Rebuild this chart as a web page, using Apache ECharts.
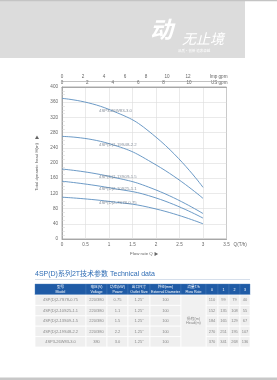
<!DOCTYPE html>
<html><head><meta charset="utf-8">
<script src="https://cdn.jsdelivr.net/npm/echarts@6/dist/echarts.min.js"></script>
<style>html,body{margin:0;padding:0;background:#fff;}#c{width:277px;height:380px;}</style>
</head><body><div id="c"></div>
<script>
// ---- data ----
const flowQ = [0, 1, 2, 3];
const models = ['4SP(D)2-7S78-0.75', '4SP(D)2-10S25-1.1', '4SP(D)2-13S09-1.5', '4SP(D)2-19S48-2.2', '4SP3-26W83-3.0'];
const voltage = ['220/380', '220/380', '220/380', '220/380', '380'];
const power = ['0.75', '1.1', '1.5', '2.2', '3.0'];
const outletSize = ['1.25"', '1.25"', '1.25"', '1.25"', '1.25"'];
const diameter = ['100', '100', '100', '100', '100'];
const head075 = [110, 99, 79, 40];
const head11 = [152, 135, 108, 55];
const head15 = [184, 165, 129, 67];
const head22 = [270, 251, 195, 107];
const head30 = [370, 341, 268, 136];
const heads = [head075, head11, head15, head22, head30];
const headerLabels = ['型号\nModel', '电压(V)\nVoltage', '功率(kW)\nPower', '出口尺寸\nOutlet Size', '外径(mm)\nExternal Diameter', '流量T/h\nFlow Rate', '0', '1', '2', '3'];
const flowCellText = '扬程(m)\nHead(m)';
const titleText = '4SP(D)系列2T技术参数 Technical data';
const yAxisName = 'Total dynamic head H(m)   ▶';
const xAxisName = 'Flow rate Q ▶';
const qUnit = 'Q(T/h)';
const impName = 'Imp gpm';
const usName = 'US gpm';

// ---- layout ----
const FONT = '"Liberation Sans","Noto Sans CJK SC",sans-serif';
const lineColor = '#5b8ec0';
const gridL = 62, gridR = 226.5, gridT = 87, gridB = 239;
const impPerPx = 1 / 10.5, usPerPx = 1 / 12.7;

const series = heads.map((h, i) => ({
  type: 'line', xAxisIndex: 0, yAxisIndex: 0, name: models[i],
  data: flowQ.map((q, k) => [q, h[k]]),
  symbol: 'none', smooth: 0.5,
  lineStyle: { color: lineColor, width: 0.9 }, silent: true, z: 3
}));
series.push({
  type: 'scatter', xAxisIndex: 0, yAxisIndex: 0, symbolSize: 1,
  itemStyle: { color: 'rgba(0,0,0,0)' }, silent: true, z: 4,
  data: heads.map((h, i) => ({ value: [flowQ[1], h[1]], name: models[i] })),
  label: { show: true, position: 'inside', align: 'left', offset: [-10, 1],
    formatter: p => p.name, fontSize: 4.3, color: '#6a7482', fontFamily: FONT }
});

// table graphics
const cols = [[35, 51], [86, 21], [107, 21], [128, 22], [150, 31], [181, 25], [206, 12], [218, 11], [229, 11], [240, 10]];
const headY = 284, headH = 11, rowY0 = 295, rowH = 10.4;
const g = [];
g.push({ type: 'rect', shape: { x: 0, y: 0, width: 245, height: 58 }, style: { fill: '#dcdcdc' } });
g.push({ type: 'rect', shape: { x: 0, y: 0, width: 277, height: 1.2 }, style: { fill: '#c4c4c4' } });
g.push({ type: 'rect', shape: { x: 0, y: 377.5, width: 277, height: 2.5 }, style: { fill: '#c8c8c8' } });
g.push({ type: 'text', x: 150, y: 18, style: { text: '动', fill: '#fff', font: 'italic bold 23px "Noto Sans CJK SC"' } });
g.push({ type: 'text', x: 182, y: 32, style: { text: '无止境', fill: '#fff', font: 'italic 14px "Noto Sans CJK SC"' } });
g.push({ type: 'text', x: 178, y: 49, style: { text: '品质·创新 追求卓越', fill: '#fff', font: '3.5px "Noto Sans CJK SC"' } });
g.push({ type: 'text', x: 35, y: 274, style: { text: titleText, fill: '#2f6db5', font: '7px ' + FONT, verticalAlign: 'middle' } });
g.push({ type: 'rect', shape: { x: 35, y: 279, width: 215, height: 0.8 }, style: { fill: '#c9d5e4' } });
cols.forEach(([x, w], c) => {
  g.push({ type: 'rect', shape: { x: x, y: headY, width: w, height: headH }, style: { fill: '#1f5ba6', stroke: '#4c7dbd', lineWidth: 0.4 } });
  g.push({ type: 'text', x: x + w / 2, y: headY + headH / 2, style: { text: headerLabels[c], fill: '#fff', font: '3.6px ' + FONT, align: 'center', verticalAlign: 'middle', lineHeight: 4.2 } });
});
for (let r = 0; r < models.length; r++) {
  const y = rowY0 + r * rowH;
  const vals = [models[r], voltage[r], power[r], outletSize[r], diameter[r], null].concat(heads[r].map(String));
  cols.forEach(([x, w], c) => {
    if (c === 5) return;
    g.push({ type: 'rect', shape: { x: x, y: y, width: w, height: rowH }, style: { fill: '#efefef', stroke: '#fff', lineWidth: 0.8 } });
    g.push({ type: 'text', x: x + w / 2, y: y + rowH / 2, style: { text: vals[c], fill: '#8a8a8a', font: '4px ' + FONT, align: 'center', verticalAlign: 'middle' } });
  });
}
g.push({ type: 'rect', shape: { x: cols[5][0], y: rowY0, width: cols[5][1], height: rowH * models.length }, style: { fill: '#f1f1f1', stroke: '#fff', lineWidth: 0.8 } });
g.push({ type: 'text', x: cols[5][0] + cols[5][1] / 2, y: rowY0 + rowH * 2.5, style: { text: flowCellText, fill: '#8a8a8a', font: '3.8px ' + FONT, align: 'center', verticalAlign: 'middle', lineHeight: 4.4 } });

const chart = echarts.init(document.getElementById('c'), null, { renderer: 'canvas' });
const axLbl = { fontSize: 4.6, color: '#666', fontFamily: FONT };
chart.setOption({
  animation: false,
  backgroundColor: '#fff',
  grid: { left: gridL, right: 277 - gridR, top: gridT, bottom: 380 - gridB, show: true, borderColor: '#9a9a9a', borderWidth: 0.8 },
  xAxis: [
    { type: 'value', position: 'bottom', min: 0, max: 3.5, interval: 0.5,
      axisLine: { lineStyle: { color: '#9a9a9a', width: 0.8 } }, axisTick: { show: false },
      splitLine: { lineStyle: { color: '#dcdcdc', width: 0.6 } },
      axisLabel: Object.assign({ margin: 3 }, axLbl),
      name: qUnit, nameLocation: 'end', nameGap: 5,
      nameTextStyle: Object.assign({ verticalAlign: 'top', padding: [3, 0, 0, 0] }, axLbl) },
    { type: 'value', position: 'bottom', min: 0, max: 3.5, gridIndex: 0,
      axisLine: { show: false }, axisTick: { show: false }, axisLabel: { show: false }, splitLine: { show: false },
      name: xAxisName, nameLocation: 'middle', nameGap: 13, nameTextStyle: Object.assign({}, axLbl, { fontSize: 4.4 }) },
    { type: 'value', position: 'top', offset: 0, min: 0, max: (gridR - gridL) * usPerPx, interval: 2,
      axisLine: { lineStyle: { color: '#9a9a9a', width: 0.8 } }, axisTick: { show: false }, splitLine: { show: false },
      axisLabel: Object.assign({ margin: 1.5, showMaxLabel: false, formatter: v => (v <= 10 ? String(v) : '') }, axLbl),
      name: usName, nameLocation: 'end', nameGap: 1,
      nameTextStyle: Object.assign({ align: 'right', verticalAlign: 'bottom', padding: [0, 0, 1.5, 0] }, axLbl) },
    { type: 'value', position: 'top', offset: 6, min: 0, max: (gridR - gridL) * impPerPx, interval: 2,
      axisLine: { lineStyle: { color: '#a8a8a8', width: 0.7 } }, axisTick: { show: false }, splitLine: { show: false },
      axisLabel: Object.assign({ margin: 1.5, showMaxLabel: false, formatter: v => (v <= 12 ? String(v) : '') }, axLbl),
      name: impName, nameLocation: 'end', nameGap: 1,
      nameTextStyle: Object.assign({ align: 'right', verticalAlign: 'bottom', padding: [0, 0, 1.5, 0] }, axLbl) }
  ],
  yAxis: [
    { type: 'value', min: 0, max: 400, interval: 40,
      axisLine: { show: true, lineStyle: { color: '#9a9a9a', width: 0.8 } },
      axisTick: { show: false, inside: true },
      minorTick: { show: true, splitNumber: 4, length: 3, lineStyle: { color: '#d0d0d0', width: 0.5 } },
      splitLine: { lineStyle: { color: '#dcdcdc', width: 0.6 } },
      axisLabel: Object.assign({ margin: 4 }, axLbl),
      name: yAxisName, nameLocation: 'middle', nameRotate: 90, nameGap: 14,
      nameTextStyle: Object.assign({}, axLbl, { fontSize: 4.3 }) }
  ],
  series: series,
  graphic: g
});
</script>
</body></html>
